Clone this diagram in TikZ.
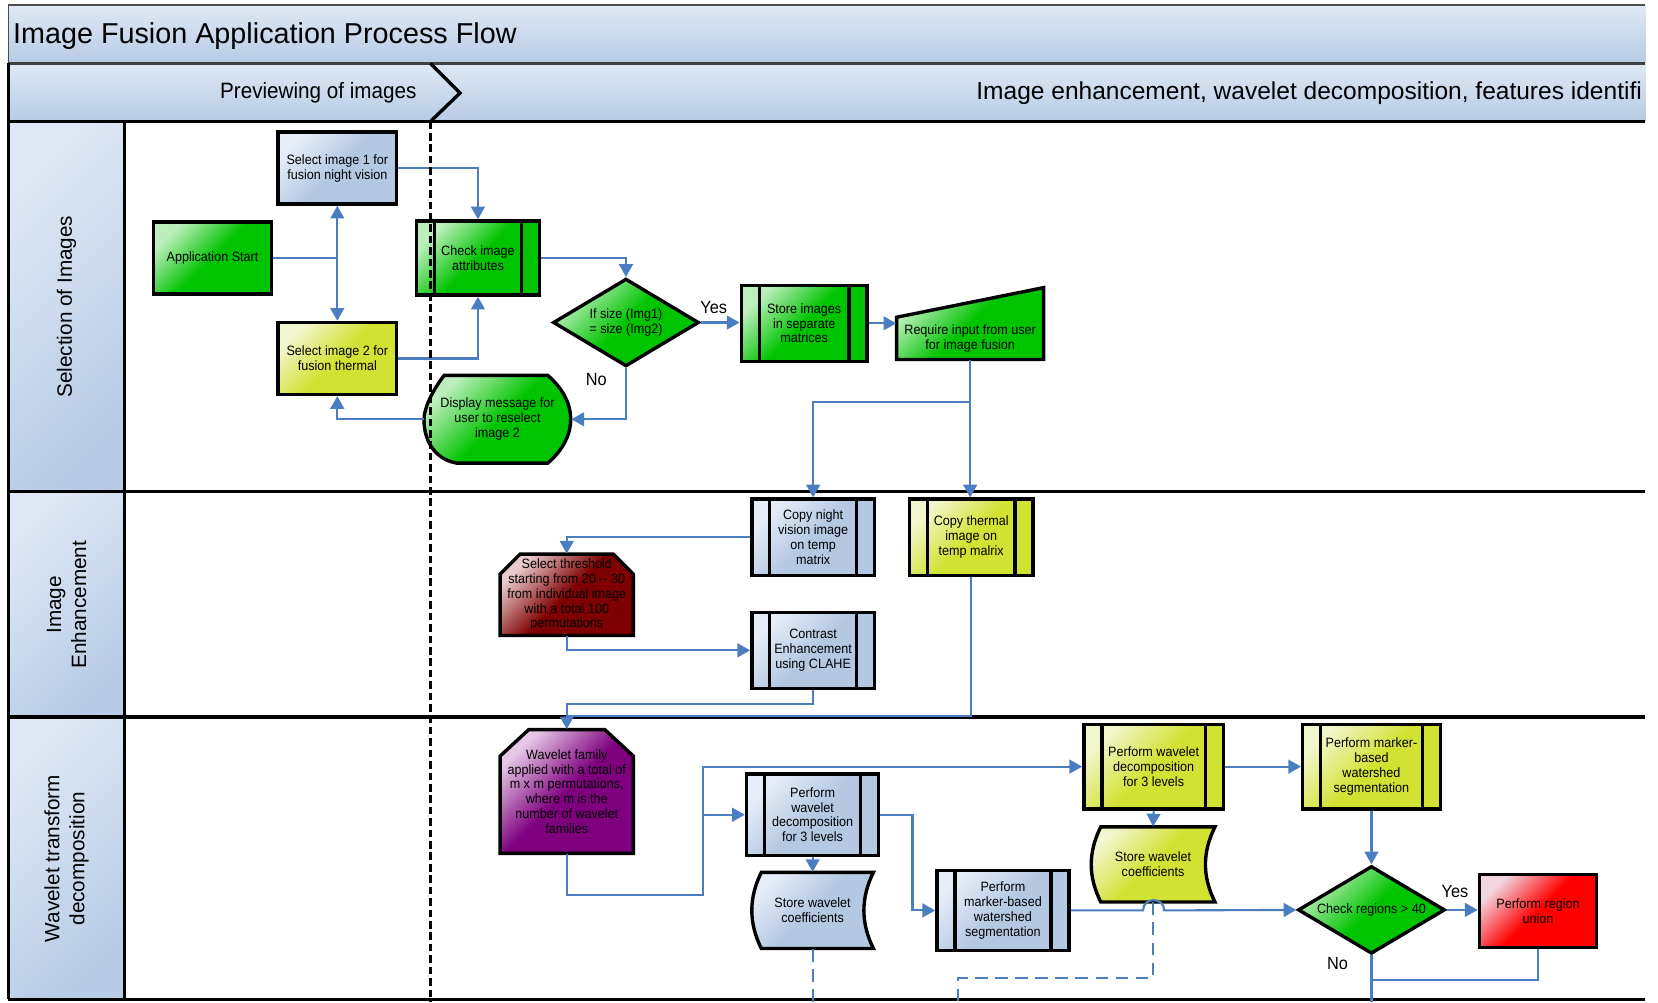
\documentclass[tikz,border=0pt]{standalone}
\usepackage{fontspec}
\setmainfont{Liberation Sans}
\newfontfamily\cn[FakeStretch=0.93]{Liberation Sans}
\usetikzlibrary{arrows.meta,shapes.geometric,calc}
\definecolor{flowc}{HTML}{4A7EC0}
\definecolor{gL}{HTML}{BDEFBD}\definecolor{gD}{HTML}{00C400}
\definecolor{bL}{HTML}{E6EDF7}\definecolor{bD}{HTML}{B4C8E2}
\definecolor{yL}{HTML}{F2F6CC}\definecolor{yD}{HTML}{D2E232}
\definecolor{rL}{HTML}{EBCACD}\definecolor{rD}{HTML}{7E0000}
\definecolor{pL}{HTML}{E6C8E6}\definecolor{pD}{HTML}{7E007E}
\definecolor{eL}{HTML}{F2D4DE}\definecolor{eD}{HTML}{FF0000}
\definecolor{hdrL}{HTML}{DFE8F4}\definecolor{hdrD}{HTML}{B7CBE4}
\begin{document}
\begin{tikzpicture}[x=0.5pt,y=-0.5pt,
  fillg/.style={top color=#1L, bottom color=#1D, middle color=#1D, shading angle=45},
  boxfont/.style={font=\cn\fontsize{6.4}{7}\selectfont},
  sz/.style 2 args={minimum width={#1*0.5pt}, minimum height={#2*0.5pt}},
  box/.style={draw=black, line width=1.6pt, inner sep=0pt, align=center, boxfont},
  txt/.style={inner sep=0pt, align=center, boxfont},
  shp/.style={draw=black, line width=1.6pt},
  predef/.style={box, path picture={
     \draw[line width=1.6pt] ([xshift=8.5pt]path picture bounding box.north west) -- ([xshift=8.5pt]path picture bounding box.south west);
     \draw[line width=1.6pt] ([xshift=-8.5pt]path picture bounding box.north east) -- ([xshift=-8.5pt]path picture bounding box.south east);}},
  dec/.style={box, diamond, aspect=1.66},
  flow/.style={draw=flowc, line width=1pt},
  arr/.style={flow, -{Triangle[length=6pt,width=6.5pt]}},
  dflow/.style={flow, dash pattern=on 6pt off 3.5pt},
  lane/.style={line width=1.6pt, black},
  lanefill/.style={top color=hdrL, bottom color=hdrD, shading angle=45},
  lbl/.style={font=\cn\fontsize{8.3}{10}\selectfont, inner sep=0pt},
  lanelbl/.style={rotate=90, align=center, inner sep=0pt, font=\fontsize{9.8}{11.8}\selectfont}
]
\useasboundingbox (0,0) rectangle (1568,948);
% title bar
\path[top color=hdrL, bottom color=hdrD] (8,5) rectangle (1556,60);
\draw[black!70, line width=0.8pt] (1556,5) -- (8,5) -- (8,60);
\node[anchor=base west, inner sep=0pt, font=\fontsize{13.6}{16}\selectfont] (title) at (12,41) {Image Fusion Application Process Flow};
% phase band
\path[top color=hdrL, bottom color=hdrD] (8,60) rectangle (1556,115);
\draw[black!75, line width=1pt] (8,60) -- (1556,60);
\draw[lane] (407,60) -- (435,88) -- (407,115);
\node[anchor=base, inner sep=0pt, font=\cn\fontsize{10.5}{12}\selectfont] (ph1) at (301,93.5) {Previewing of images};
\node[anchor=base west, inner sep=0pt, font=\fontsize{11.6}{14}\selectfont] (ph2) at (923,94.5) {Image enhancement, wavelet decomposition, features identifi};
% lane headers
\path[lanefill] (8,115) rectangle (118,465);
\path[lanefill] (8,465) rectangle (118,678);
\path[lanefill] (8,678) rectangle (118,945);
\node[lanelbl] (l1) at (63,290) {Selection of Images};
\node[lanelbl] (l2) at (63,572) {Image\\Enhancement};
\node[lanelbl] (l3) at (63,812) {Wavelet transform\\decomposition};
% lane lines
\draw[lane] (8,115) -- (1556,115);
\draw[lane] (8,465) -- (1556,465);
\draw[lane] (8,678) -- (1556,678);
\draw[lane] (8,945) -- (1556,945);
\draw[lane] (8,60) -- (8,945);
\draw[lane] (118,115) -- (118,945);

% ---------- nodes lane 1
\node[box, fillg=g, sz={112}{68}] (start) at (201,244) {Application Start};
\node[box, fillg=b, sz={112}{68}] (sel1) at (319,159) {Select image 1 for\\fusion night vision};
\node[box, fillg=y, sz={112}{68}] (sel2) at (319,339) {Select image 2 for\\fusion thermal};
\node[predef, fillg=g, sz={116}{70}] (check) at (452,244) {Check image\\attributes};
\node[dec, fillg=g, sz={138}{83}] (d1) at (592,305) {If size (Img1)\\= size (Img2)};
\node[predef, fillg=g, sz={119}{72}] (store) at (760.5,305.75) {Store images\\in separate\\matrices};
\path[shp, fillg=g] (848,340) -- (987,340) -- (987,272) -- (848,300) -- cycle;
\node[txt, sz={139}{40}] (req) at (917.5,320) {Require input from user\\for image fusion};
\path[shp, fillg=g] (420,355) -- (518,355) .. controls (547,380) and (547,413) .. (518,438) -- (432,438) .. controls (414,435) and (401,420) .. (401,397) .. controls (401,385) and (410,368) .. (420,355) -- cycle;
\node[txt, sz={139}{83}] (disp) at (470.5,396.5) {Display message for\\user to reselect\\image 2};
% ---------- nodes lane 2
\node[predef, fillg=b, sz={116}{72}] (cpn) at (769,508) {Copy night\\vision image\\on temp\\matrix};
\node[predef, fillg=y, sz={117}{72}] (cpt) at (918.5,508) {Copy thermal\\image on\\temp malrix};
\path[shp, fillg=r] (492,524) -- (580,524) -- (599,543) -- (599,601) -- (473,601) -- (473,543) -- cycle;
\node[txt, sz={126}{77}] (thr) at (536,562.5) {Select threshold\\starting from 20 -- 30\\from individual image\\with a total 100\\permutations};
\node[predef, fillg=b, sz={116}{72}] (clahe) at (769,615) {Contrast\\Enhancement\\using CLAHE};
% ---------- nodes lane 3
\path[shp, fillg=p] (500,690) -- (572,690) -- (599,715) -- (599,807) -- (473,807) -- (473,715) -- cycle;
\node[txt, sz={126}{117}] (wav) at (536,748.5) {Wavelet family\\applied with a total of\\m x m permutations,\\where m is the\\number of wavelet\\families};
\node[predef, fillg=b, sz={125}{77}] (bdec) at (768.5,770.5) {Perform\\wavelet\\decomposition\\for 3 levels};
\path[shp, fillg=b] (720,825) -- (826,825) .. controls (814,849) and (814,873) .. (826,897) -- (720,897) .. controls (708,873) and (708,849) .. (720,825) -- cycle;
\node[txt, sz={115}{72}] (bst) at (768.5,861) {Store wavelet\\coefficients};
\node[predef, fillg=b, sz={125}{76}] (bws) at (948.5,861) {Perform\\marker-based\\watershed\\segmentation};
\node[predef, fillg=y, sz={132}{80}] (ydec) at (1091,725) {Perform wavelet\\decomposition\\for 3 levels};
\path[shp, fillg=y] (1041,782) -- (1149,782) .. controls (1137,806) and (1137,829) .. (1149,853) -- (1041,853) .. controls (1029,829) and (1029,806) .. (1041,782) -- cycle;
\node[txt, sz={117}{71}] (yst) at (1090.5,817.5) {Store wavelet\\coefficients};
\node[predef, fillg=y, sz={130}{80}] (yws) at (1297,725) {Perform marker-\\based\\watershed\\segmentation};
\node[dec, fillg=g, sz={139}{83}] (d2) at (1297,860.5) {Check regions > 40};
\node[box, fillg=e, sz={111}{69}] (ru) at (1454.5,861.5) {Perform region\\union};

% ---------- connectors lane 1
\coordinate (j1) at (sel1.south |- start.east);
\draw[flow] (start.east) -- (j1);
\draw[arr, {Triangle[length=6pt,width=6.5pt]}-{Triangle[length=6pt,width=6.5pt]}] (sel1.south) -- (sel2.north);
\draw[arr] (sel1.east) -| (check.north);
\draw[arr] (sel2.east) -| (check.south);
\draw[arr] (check.east) -| (d1.north);
\draw[arr] (d1.east) -- (d1.east -| store.west);
\draw[arr] (d1.south) |- (disp.east);
\draw[arr] (disp.west) -| (sel2.south);
\draw[arr] (store.east) -- (store.east -| req.west);
\draw[arr] (req.south) -- (req.south |- cpt.north);
\coordinate (j2) at (917.5,380);
\draw[arr] (j2) -| (cpn.north);
\node[lbl] (yes1) at (675,291) {Yes};
\node[lbl] (no1) at (564,359) {No};
% ---------- connectors lane 2
\draw[arr] (cpn.west) -| (thr.north);
\draw[arr] (thr.south) |- (clahe.west);
\draw[arr] (clahe.south) -- ++(0,13) -| (wav.north);
\coordinate (j3) at (536,677);
\draw[flow] (cpt.south) |- (j3);
% ---------- connectors lane 3
\coordinate (j6) at (665,846);
\coordinate (j4) at (665,725);
\draw[arr] (wav.south) |- (j6) -- (j4) -- (j4 -| ydec.west);
\draw[arr] (j4 |- bdec.west) -- (bdec.west);
\draw[arr] (bdec.south) -- (bst.north);
\coordinate (j7) at (863,770.5);
\draw[arr] (bdec.east) -- (j7) |- (bws.west);
\coordinate (e1) at (768.5,948);
\draw[dflow] (bst.south) -- (e1);
\coordinate (hopL) at (1081,861);
\coordinate (hopR) at (1101,861);
\draw[arr] (bws.east) -- (hopL) .. controls (1081,848) and (1101,848) .. (hopR) -- (d2.west);
\draw[arr] (ydec.south) -- (yst.north);
\coordinate (j8) at (906,925);
\coordinate (e2) at (906,948);
\draw[dflow] (yst.south) |- (j8) -- (e2);
\draw[arr] (ydec.east) -- (yws.west);
\draw[arr] (yws.south) -- (d2.north);
\draw[arr] (d2.east) -- (d2.east -| ru.west);
\coordinate (e3) at (1297,948);
\draw[flow] (d2.south) -- (e3);
\coordinate (j9) at (1297,927);
\draw[flow] (ru.south) |- (j9);
\node[lbl] (yes2) at (1376,843) {Yes};
\node[lbl] (no2) at (1265,911) {No};
% separator
\draw[line width=1.5pt, dash pattern=on 3.6pt off 1.8pt] (407,115) -- (407,948);
\end{tikzpicture}
\end{document}
